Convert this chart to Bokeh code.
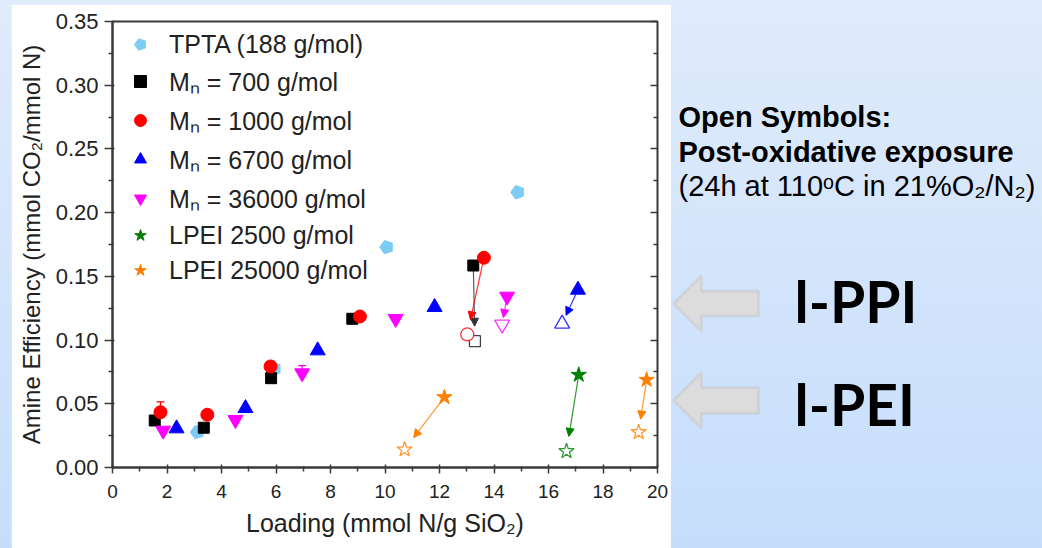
import math
from bokeh.plotting import figure
from bokeh.layouts import row
from bokeh.models import (ColumnDataSource, Legend, LegendItem, LinearAxis, Range1d,
                          PolyAnnotation, Label, Arrow, NormalHead,
                          Whisker, TeeHead, FixedTicker, NumeralTickFormatter)
from bokeh.embed import file_html
from bokeh.resources import INLINE

# ---------------- data ----------------
tpta_x = [3.11, 5.94, 10.06, 14.87]
tpta_y = [0.0277, 0.0775, 0.1729, 0.2160]

mn700_x = [1.55, 3.35, 5.82, 8.80, 13.24]
mn700_y = [0.0369, 0.0312, 0.0701, 0.1167, 0.1585]

mn1000_x = [1.76, 3.48, 5.80, 9.08, 13.63]
mn1000_y = [0.0434, 0.0414, 0.0793, 0.1185, 0.1646]

mn6700_x = [2.35, 4.88, 7.53, 11.82, 17.08]
mn6700_y = [0.0306, 0.0465, 0.0918, 0.1258, 0.1394]

mn36000_x = [1.86, 4.51, 6.96, 10.39, 14.48]
mn36000_y = [0.0290, 0.0374, 0.0740, 0.1167, 0.1342]

lpei2500_x = [17.11]
lpei2500_y = [0.0727]

lpei25000_x = [12.18, 19.60]
lpei25000_y = [0.0552, 0.0688]

# post-oxidative exposure (open symbols) and the fresh sample they come from
ox700_fresh_x, ox700_fresh_y = [13.24], [0.1585]
ox700_x, ox700_y = [13.30], [0.0991]
ox1000_fresh_x, ox1000_fresh_y = [13.63], [0.1646]
ox1000_x, ox1000_y = [13.02], [0.1044]
ox6700_fresh_x, ox6700_fresh_y = [17.08], [0.1394]
ox6700_x, ox6700_y = [16.50], [0.1128]
ox36000_fresh_x, ox36000_fresh_y = [14.48], [0.1342]
ox36000_x, ox36000_y = [14.30], [0.1122]
ox2500_fresh_x, ox2500_fresh_y = [17.11], [0.0727]
ox2500_x, ox2500_y = [16.66], [0.0128]
ox25000_fresh_x, ox25000_fresh_y = [12.18, 19.60], [0.0552, 0.0688]
ox25000_x, ox25000_y = [10.72, 19.31], [0.0141, 0.0277]

# error bars (upper end only visible)
err_red_x, err_red_lo, err_red_hi = [1.76], [0.0434], [0.0515]
err_mag_x, err_mag_lo, err_mag_hi = [6.96], [0.0740], [0.0800]

legend_labels = ["TPTA (188 g/mol)", "M\u2099 = 700 g/mol", "M\u2099 = 1000 g/mol",
                 "M\u2099 = 6700 g/mol", "M\u2099 = 36000 g/mol",
                 "LPEI 2500 g/mol", "LPEI 25000 g/mol"]
x_ticks = [0, 2, 4, 6, 8, 10, 12, 14, 16, 18, 20]
x_minor_ticks = [1, 3, 5, 7, 9, 11, 13, 15, 17, 19]
y_ticks = [0.00, 0.05, 0.10, 0.15, 0.20, 0.25, 0.30, 0.35]
y_minor_ticks = [0.025, 0.075, 0.125, 0.175, 0.225, 0.275, 0.325]

note_lines = ["Open Symbols:", "Post-oxidative exposure",
              "(24h at 110\u1d52C in 21%O\u2082/N\u2082)"]
group_labels = ["l-PPI", "l-PEI"]

# ---------------- layout constants (canvas pixels) ----------------
W, H = 1042, 548
PANEL_L, PANEL_T, PANEL_R = 11, 4, 671      # white panel
FL, FR, FT, FB = 112, 657, 21, 467           # chart frame
CHART_W = PANEL_R - PANEL_L
CHART_H = H - PANEL_T
RIGHT_X0 = PANEL_R
RIGHT_W = W - RIGHT_X0
FONT = "Liberation Sans"
AX = "#3a3a3a"

p = figure(width=CHART_W, height=CHART_H, x_range=Range1d(0, 20), y_range=Range1d(0, 0.35),
           output_backend="svg", toolbar_location=None,
           min_border_left=FL - PANEL_L, min_border_right=PANEL_R - FR,
           min_border_top=FT - PANEL_T, min_border_bottom=H - FB,
           border_fill_color="white", background_fill_color="white",
           outline_line_color=AX, outline_line_width=2,
           margin=(PANEL_T, 0, 0, PANEL_L))
p.xgrid.visible = False
p.ygrid.visible = False

xa = p.xaxis[0]
xa.ticker = FixedTicker(ticks=x_ticks, minor_ticks=x_minor_ticks)
xa.axis_label = "Loading (mmol N/g SiO\u2082)"
ya = p.yaxis[0]
ya.ticker = FixedTicker(ticks=y_ticks, minor_ticks=y_minor_ticks)
ya.formatter = NumeralTickFormatter(format="0.00")
ya.axis_label = "Amine Efficiency (mmol CO\u2082/mmol N)"
for ax in (xa, ya):
    ax.axis_line_color = AX
    ax.axis_line_width = 2
    ax.major_tick_line_color = AX
    ax.minor_tick_line_color = AX
    ax.major_tick_line_width = 1.5
    ax.minor_tick_line_width = 1.5
    ax.major_label_text_font = FONT
    ax.axis_label_text_font = FONT
    ax.major_label_text_color = "#222222"
    ax.axis_label_text_color = "#222222"
    ax.axis_label_text_font_style = "normal"
xa.major_tick_out, xa.major_tick_in = 6, 3
xa.minor_tick_out, xa.minor_tick_in = 4, 1
xa.major_label_text_font_size = "19px"
xa.major_label_standoff = 11
xa.axis_label_text_font_size = "25px"
xa.axis_label_standoff = 8
ya.major_tick_out, ya.major_tick_in = 8, 2
ya.minor_tick_out, ya.minor_tick_in = 4, 1
ya.major_label_text_font_size = "22px"
ya.major_label_standoff = 6
ya.axis_label_text_font_size = "24px"
ya.axis_label_standoff = 8

ra = LinearAxis(ticker=FixedTicker(ticks=y_ticks, minor_ticks=y_minor_ticks),
                major_label_overrides={v: "" for v in y_ticks},
                major_label_text_color=None, major_label_standoff=0,
                axis_line_color=None,
                major_tick_in=7, major_tick_out=0, minor_tick_in=4, minor_tick_out=0,
                major_tick_line_color=AX, minor_tick_line_color=AX,
                major_tick_line_width=1.5, minor_tick_line_width=1.5)
p.add_layout(ra, "right")

C_TPTA = "#7ccdf4"
C_700 = "#000000"
C_1000 = "#ff0000"
C_6700 = "#0000ff"
C_36000 = "#ff00ff"
C_2500 = "#008000"
C_25000 = "#ff7f00"

# ---------------- arrows (fresh -> oxidised) ----------------
px_x = (FR - FL) / 20.0
px_y = (FB - FT) / 0.35

def arrow_src(fx, fy, ox, oy):
    xs0, ys0, xs1, ys1 = [], [], [], []
    for a, b, c, d in zip(fx, fy, ox, oy):
        dx, dy = (c - a) * px_x, (d - b) * px_y
        L = math.hypot(dx, dy)
        gap = min(15.0, 0.25 * L)
        f = (L - gap) / L
        xs0.append(a); ys0.append(b)
        xs1.append(a + (c - a) * f); ys1.append(b + (d - b) * f)
    return ColumnDataSource(dict(x0=xs0, y0=ys0, x1=xs1, y1=ys1))

for fx, fy, ox, oy, col in [
        (ox700_fresh_x, ox700_fresh_y, ox700_x, ox700_y, "#333333"),
        (ox1000_fresh_x, ox1000_fresh_y, ox1000_x, ox1000_y, C_1000),
        (ox6700_fresh_x, ox6700_fresh_y, ox6700_x, ox6700_y, C_6700),
        (ox36000_fresh_x, ox36000_fresh_y, ox36000_x, ox36000_y, C_36000),
        (ox2500_fresh_x, ox2500_fresh_y, ox2500_x, ox2500_y, C_2500),
        (ox25000_fresh_x, ox25000_fresh_y, ox25000_x, ox25000_y, C_25000)]:
    p.add_layout(Arrow(end=NormalHead(size=8, fill_color=col, line_color=col, line_width=1),
                       x_start="x0", y_start="y0", x_end="x1", y_end="y1",
                       source=arrow_src(fx, fy, ox, oy), line_color=col, line_width=1.2,
                       line_alpha=0.8, level="underlay"))

# ---------------- error bars ----------------
for ex, lo, hi, col in [(err_red_x, err_red_lo, err_red_hi, C_1000),
                        (err_mag_x, err_mag_lo, err_mag_hi, C_36000)]:
    p.add_layout(Whisker(source=ColumnDataSource(dict(b=ex, lo=lo, hi=hi)),
                         base="b", lower="lo", upper="hi", dimension="height",
                         line_color=col, line_width=1.2, lower_head=None,
                         upper_head=TeeHead(size=8, line_color=col, line_width=1.2),
                         level="underlay"))

# ---------------- filled symbols ----------------
try:
    r_tpta = p.ngon(x=tpta_x, y=tpta_y, radius=7, radius_units="screen", n=5,
                    angle=math.pi / 2, fill_color=C_TPTA, line_color=C_TPTA)
except Exception:
    r_tpta = p.scatter(x=tpta_x, y=tpta_y, marker="hex", size=14,
                       fill_color=C_TPTA, line_color=C_TPTA)
r700 = p.scatter(x=mn700_x, y=mn700_y, marker="square", size=11, fill_color=C_700, line_color=C_700)
r1000 = p.scatter(x=mn1000_x, y=mn1000_y, marker="circle", size=13, fill_color=C_1000, line_color=C_1000)
r6700 = p.scatter(x=mn6700_x, y=mn6700_y, marker="triangle", size=15, fill_color=C_6700, line_color=C_6700)
r36000 = p.scatter(x=mn36000_x, y=mn36000_y, marker="inverted_triangle", size=15, fill_color=C_36000, line_color=C_36000)
r2500 = p.scatter(x=lpei2500_x, y=lpei2500_y, marker="star", size=16, fill_color=C_2500, line_color=C_2500)
r25000 = p.scatter(x=lpei25000_x, y=lpei25000_y, marker="star", size=16, fill_color=C_25000, line_color=C_25000)

# ---------------- open symbols ----------------
p.scatter(x=ox700_x, y=ox700_y, marker="square", size=11, fill_color="white", line_color="#444444", line_width=1.3)
p.scatter(x=ox1000_x, y=ox1000_y, marker="circle", size=13, fill_color="white", line_color=C_1000, line_width=1.3, line_alpha=0.8)
p.scatter(x=ox6700_x, y=ox6700_y, marker="triangle", size=15, fill_color="white", line_color=C_6700, line_width=1.3, line_alpha=0.8)
p.scatter(x=ox36000_x, y=ox36000_y, marker="inverted_triangle", size=15, fill_color="white", line_color=C_36000, line_width=1.3, line_alpha=0.8)
p.scatter(x=ox2500_x, y=ox2500_y, marker="star", size=16, fill_color="white", line_color=C_2500, line_width=1.3, line_alpha=0.8)
p.scatter(x=ox25000_x, y=ox25000_y, marker="star", size=16, fill_color="white", line_color=C_25000, line_width=1.3, line_alpha=0.8)

# ---------------- legend ----------------
renderers = [r_tpta, r700, r1000, r6700, r36000, r2500, r25000]
legend = Legend(items=[LegendItem(label=lab, renderers=[r]) for lab, r in zip(legend_labels, renderers)],
                location="top_left", padding=0, margin=8, spacing=5,
                glyph_width=40, glyph_height=30, label_standoff=9,
                label_text_font=FONT, label_text_font_size="25px", label_text_color="#222222",
                border_line_color=None, background_fill_alpha=0.0)
p.add_layout(legend)

# ---------------- right-hand panel (notes and block arrows) ----------------
q = figure(width=RIGHT_W, height=CHART_H, x_range=Range1d(0, RIGHT_W), y_range=Range1d(0, FB - FT),
           output_backend="svg", toolbar_location=None,
           x_axis_type=None, y_axis_type=None,
           min_border_left=0, min_border_right=0,
           min_border_top=FT - PANEL_T, min_border_bottom=H - FB,
           border_fill_color=None, background_fill_color=None, outline_line_color=None,
           margin=(PANEL_T, 0, 0, 0))
q.xgrid.visible = False
q.ygrid.visible = False

def qx(cx):
    return cx - RIGHT_X0

def qy(cy):
    return FB - cy

# texts: anchor shift measured for the renderer's baseline handling
for txt, cy, style in zip(note_lines, [126, 161, 195], ["bold", "bold", "normal"]):
    q.add_layout(Label(x=qx(678), y=qy(cy - 10), x_units="screen", y_units="screen", text=txt,
                       text_font=FONT, text_font_size="29px", text_font_style=style,
                       text_color="black", text_baseline="alphabetic", text_align="left"))

for txt, cy in zip(group_labels, [324, 427]):
    q.add_layout(Label(x=qx(794), y=qy(cy - 24), x_units="screen", y_units="screen", text=txt,
                       text_font="Lato", text_font_size="57px", text_font_style="bold",
                       text_color="black", text_baseline="alphabetic", text_align="left"))

for tip_y, head_half, shaft_half in [(303, 28, 12.5), (400, 28, 13)]:
    tip_x = RIGHT_X0 + 2
    cxs = [tip_x, tip_x + 28, tip_x + 28, 758, 758, tip_x + 28, tip_x + 28]
    cys = [tip_y, tip_y - head_half, tip_y - shaft_half, tip_y - shaft_half,
           tip_y + shaft_half, tip_y + shaft_half, tip_y + head_half]
    q.add_layout(PolyAnnotation(xs=[qx(v) for v in cxs], ys=[qy(v) for v in cys],
                                xs_units="screen", ys_units="screen",
                                fill_color="#dcdcdc", fill_alpha=1.0,
                                line_color="#b9b9b9", line_width=3))

layout = row(p, q, spacing=0,
             styles={"background": "linear-gradient(180deg, #e0ebfb 0%, #c6defb 100%)"})

open("out.html", "w").write(file_html(layout, INLINE))
